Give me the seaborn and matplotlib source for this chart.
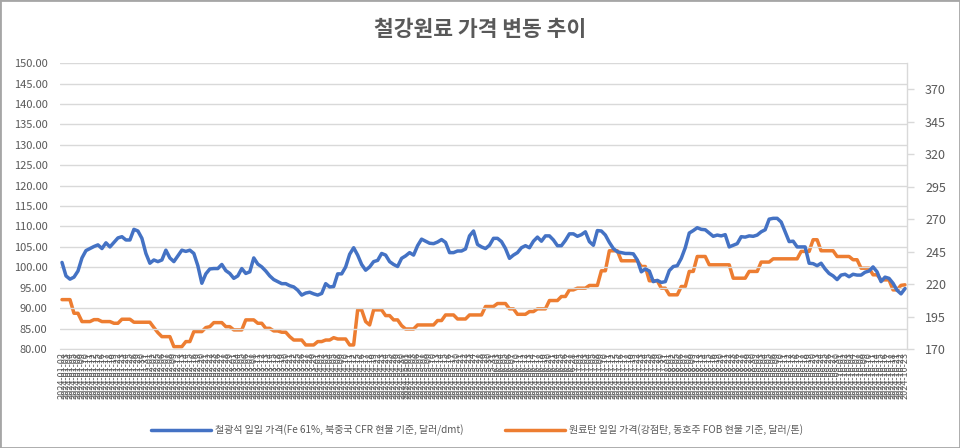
import matplotlib
matplotlib.use("Agg")
import matplotlib.pyplot as plt
from matplotlib.patches import Rectangle
from matplotlib.lines import Line2D
import seaborn as sns
import numpy as np
import pandas as pd

title = "철강원료 가격 변동 추이"
label_iron = "철광석 일일 가격(Fe 61%, 북중국 CFR 현물 기준, 달러/dmt)"
label_coal = "원료탄 일일 가격(강점탄, 동호주 FOB 현물 기준, 달러/톤)"

iron_ore = [
    101.2, 97.9, 97.1, 97.6, 99.1, 102.3, 104.1, 104.6, 105.1, 105.5,
    104.6, 106.0, 105.0, 106.1, 107.2, 107.5, 106.7, 106.7, 109.3, 108.9,
    107.1, 103.4, 101.0, 101.8, 101.4, 101.8, 104.2, 102.3, 101.4, 102.8,
    104.2, 103.9, 104.2, 103.4, 100.4, 96.1, 98.4, 99.6, 99.7, 99.7,
    100.7, 99.2, 98.5, 97.3, 97.9, 99.7, 98.5, 98.9, 102.3, 100.8,
    100.1, 99.1, 97.9, 97.0, 96.5, 96.0, 96.0, 95.5, 95.2, 94.4,
    93.2, 93.7, 93.9, 93.5, 93.2, 93.6, 96.0, 95.2, 95.3, 98.4,
    98.4, 100.1, 103.2,
    104.8, 103.0, 100.7, 99.3, 100.1, 101.4, 101.7, 103.4, 103.0, 101.4,
    100.7, 100.2, 102.2, 102.8, 103.6, 103.0, 105.3, 106.9, 106.4, 105.9,
    105.8, 106.2, 106.8, 106.1, 103.6, 103.6, 104.0, 104.0, 104.5, 107.7,
    108.9, 105.6, 105.0, 104.6, 105.4, 107.1, 107.1, 106.3, 104.6, 102.2,
    103.0, 103.6, 104.8, 105.3, 104.8, 106.4, 107.4, 106.4, 107.7, 107.7,
    106.7, 105.3, 105.3, 106.6, 108.2, 108.2, 107.6, 108.0, 108.7, 106.3,
    105.4, 109.0, 108.9, 107.9, 106.1, 104.6, 103.8, 103.6, 103.4, 103.4,
    103.3, 101.8, 98.9, 99.6, 99.1, 96.5, 96.8, 96.3, 96.5,
    99.2, 100.2, 100.4, 102.2, 104.8, 108.4, 109.0, 109.7, 109.3, 109.2,
    108.4, 107.6, 107.9, 107.7, 108.0, 105.0, 105.4, 105.8, 107.5, 107.4,
    107.7, 107.6, 107.9, 108.7, 109.2, 111.8, 112.0, 112.0, 111.1, 108.7,
    106.3, 106.4, 105.0, 105.0, 105.0, 101.0, 100.9, 100.4, 101.0, 99.6,
    98.5, 97.9, 97.0, 98.1, 98.3, 97.7, 98.3, 98.1, 98.1, 98.8,
    99.1, 100.1, 98.9, 96.5, 97.6, 97.3, 96.1, 94.4, 93.5, 94.8,
]

coking_coal = [
    208, 208, 208, 197.5, 197.5, 191.1, 191.1, 191.1, 192.6, 192.6,
    191.1, 191.1, 191.1, 189.8, 189.8, 192.9, 192.9, 192.9, 190.6, 190.6,
    190.6, 190.6, 190.6, 186.5, 182.6, 179.5, 179.5, 179.5, 171.8, 171.8,
    171.8, 175.7, 175.7, 183.4, 183.4, 183.4, 186.5, 187.2, 190.3, 190.3,
    190.3, 187.2, 187.2, 184.7, 184.7, 184.7, 192.4, 192.4, 192.4, 189.8,
    189.8, 185.9, 185.9, 183.9, 183.9, 182.9, 182.9, 179.5, 176.9, 176.9,
    176.9, 173.1, 173.1, 173.1, 175.7, 175.7, 176.9, 176.9, 178.7, 177.7,
    177.7, 177.7, 173.1,
    173.1, 200.1, 200.1, 191.1, 188.5, 200.1, 200.1, 200.1, 195.7, 195.7,
    192.4, 192.4, 188.0, 185.4, 185.4, 185.4, 188.5, 188.5, 188.5, 188.5,
    188.5, 191.9, 191.9, 196.2, 196.2, 196.2, 193.1, 193.1, 193.1, 196.2,
    196.2, 196.2, 196.2, 202.7, 202.7, 202.7, 205.0, 205.0, 205.0, 200.9,
    200.9, 196.7, 196.7, 196.7, 198.8, 198.8, 200.9, 200.9, 200.9, 207.3,
    207.3, 207.3, 210.4, 210.4, 215.5, 215.5, 216.8, 216.8, 216.8, 218.9,
    218.9, 218.9, 230.2, 230.2, 245.6, 245.6, 245.6, 237.9, 237.9, 237.9,
    237.9, 237.9, 233.5, 233.5, 222.5, 222.5, 222.5, 216.8, 216.8, 211.7,
    211.7, 211.7, 218.1, 218.1, 229.7, 229.7, 241.2, 241.2, 241.2, 234.8,
    234.8, 234.8, 234.8, 234.8, 234.8, 224.5, 224.5, 224.5, 224.5, 229.7,
    229.7, 229.7, 236.9, 236.9, 236.9, 239.4, 239.4, 239.4, 239.4, 239.4,
    239.4, 239.4, 245.1, 245.1, 245.1, 254.1, 254.1, 245.6, 245.6, 245.6,
    245.6, 241.2, 241.2, 241.2, 241.2, 238.7, 238.7, 232.2, 232.2, 232.2,
    227.1, 227.1, 223.2, 223.2, 223.2, 215.5, 215.5, 219.0, 219.4,
]

start_date = "2024-01-02"
dates = [d.strftime("%Y-%m-%d") for d in pd.bdate_range(start_date, periods=len(iron_ore))]

left_ticks = [80, 85, 90, 95, 100, 105, 110, 115, 120, 125, 130, 135, 140, 145, 150]
right_ticks = [170, 195, 220, 245, 270, 295, 320, 345, 370]

sns.set_style("white")
plt.rcParams["font.family"] = ["Noto Sans CJK KR", "DejaVu Sans"]

BLUE = "#4472C4"
ORANGE = "#ED7D31"
GREY_TXT = "#595959"
GRID = "#D9D9D9"

df = pd.DataFrame({"idx": np.arange(len(iron_ore)), "date": dates,
                   "iron": iron_ore, "coal": coking_coal})

fig = plt.figure(figsize=(9.6, 4.48), dpi=100)
ax = fig.add_axes([0.0625, 0.221, 0.8823, 0.638])
ax2 = ax.twinx()

sns.lineplot(data=df, x="idx", y="iron", ax=ax, color=BLUE, linewidth=2.5, legend=False)
sns.lineplot(data=df, x="idx", y="coal", ax=ax2, color=ORANGE, linewidth=2.5, legend=False)
ax.set_zorder(ax2.get_zorder() + 1)
ax.patch.set_visible(False)

ax.set_xlim(-0.5, len(iron_ore) - 0.5)
ax.set_ylim(80, 150)
ax2.set_ylim(170, 390)
ax.set_yticks(left_ticks)
ax.set_yticklabels([f"{t:.2f}" for t in left_ticks], color=GREY_TXT, fontsize=8)
ax2.set_yticks(right_ticks)
ax2.set_yticklabels([str(t) for t in right_ticks], color=GREY_TXT, fontsize=9)
ax.set_xticks(df["idx"])
ax.set_xticklabels(dates, rotation=90, fontsize=6.5, color=GREY_TXT)
ax.set_xlabel("")
ax.set_ylabel("")
ax2.set_ylabel("")

ax.grid(axis="y", color=GRID, linewidth=1.0)
ax.grid(axis="x", visible=False)
ax2.grid(False)
ax.set_axisbelow(True)

for a in (ax, ax2):
    a.spines["top"].set_visible(False)
    a.spines["left"].set_visible(False)
ax.spines["right"].set_visible(False)
ax.spines["bottom"].set_color(GRID)
ax2.spines["bottom"].set_visible(False)
ax2.spines["right"].set_color(GRID)
ax2.spines["right"].set_linewidth(1.0)

ax.tick_params(axis="y", length=0, pad=9)
ax.tick_params(axis="x", length=0, pad=2)
ax2.tick_params(axis="y", length=5, width=1, color=GRID, pad=8, direction="out")

fig.text(0.5, 0.935, title, ha="center", va="center", fontsize=15.5,
         color=GREY_TXT, fontweight="bold")

handles = [Line2D([], [], color=BLUE, linewidth=2.5),
           Line2D([], [], color=ORANGE, linewidth=2.5)]
leg = fig.legend(handles, [label_iron, label_coal], loc="center",
                 bbox_to_anchor=(0.497, 0.04), ncol=2, frameon=False,
                 fontsize=7.2, handlelength=6.0, handletextpad=0.4,
                 columnspacing=4.2)
for t in leg.get_texts():
    t.set_color(GREY_TXT)

fig.patches.append(Rectangle((0, 0), 1, 1, transform=fig.transFigure,
                             fill=False, edgecolor="#A6A6A6", linewidth=2))

fig.savefig("out.png", dpi=100)
